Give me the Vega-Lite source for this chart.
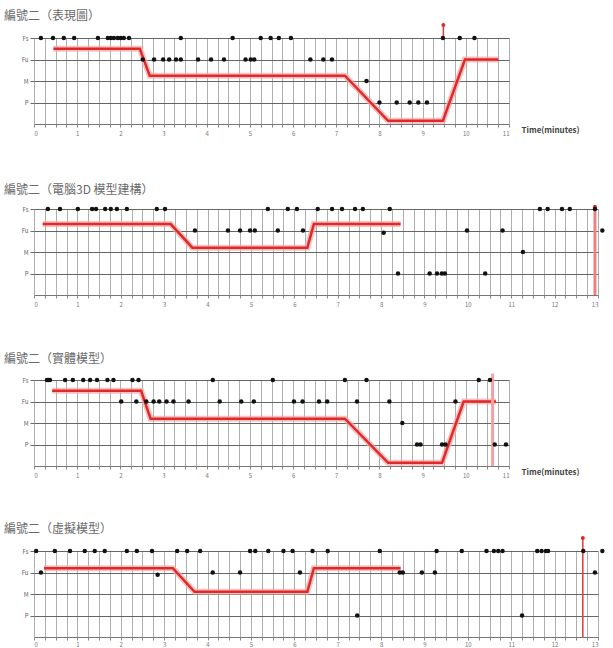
{
"$schema":"https://vega.github.io/schema/vega-lite/v6.json",
"padding":{"left":4,"top":10,"right":0,"bottom":0},
"background":"#ffffff",
"spacing":85,
"bounds":"flush",
"config":{"view":{"stroke":null},"font":"Noto Sans CJK TC","title":{"fontSize":12,"fontWeight":"normal","color":"#6a6a6a","anchor":"start","frame":"bounds"}},
"datasets":{
"pts":[
{"p":1,"t":0.16,"lv":4},{"p":1,"t":0.44,"lv":4},{"p":1,"t":0.69,"lv":4},{"p":1,"t":0.93,"lv":4},{"p":1,"t":1.48,"lv":4},{"p":1,"t":1.71,"lv":4},{"p":1,"t":1.78,"lv":4},{"p":1,"t":1.85,"lv":4},{"p":1,"t":1.94,"lv":4},{"p":1,"t":2.01,"lv":4},{"p":1,"t":2.08,"lv":4},{"p":1,"t":2.2,"lv":4},{"p":1,"t":3.4,"lv":4},{"p":1,"t":4.6,"lv":4},{"p":1,"t":5.25,"lv":4},{"p":1,"t":5.48,"lv":4},{"p":1,"t":5.67,"lv":4},{"p":1,"t":5.95,"lv":4},{"p":1,"t":9.47,"lv":4},{"p":1,"t":9.86,"lv":4},{"p":1,"t":10.2,"lv":4},
{"p":1,"t":2.52,"lv":3},{"p":1,"t":2.78,"lv":3},{"p":1,"t":2.99,"lv":3},{"p":1,"t":3.13,"lv":3},{"p":1,"t":3.29,"lv":3},{"p":1,"t":3.4,"lv":3},{"p":1,"t":3.8,"lv":3},{"p":1,"t":4.1,"lv":3},{"p":1,"t":4.4,"lv":3},{"p":1,"t":4.9,"lv":3},{"p":1,"t":5.02,"lv":3},{"p":1,"t":5.1,"lv":3},{"p":1,"t":6.4,"lv":3},{"p":1,"t":6.7,"lv":3},{"p":1,"t":6.9,"lv":3},
{"p":1,"t":7.7,"lv":2},
{"p":1,"t":8.0,"lv":1},{"p":1,"t":8.4,"lv":1},{"p":1,"t":8.7,"lv":1},{"p":1,"t":8.9,"lv":1},{"p":1,"t":9.1,"lv":1},
{"p":2,"t":0.32,"lv":4},{"p":2,"t":0.6,"lv":4},{"p":2,"t":1.01,"lv":4},{"p":2,"t":1.34,"lv":4},{"p":2,"t":1.43,"lv":4},{"p":2,"t":1.64,"lv":4},{"p":2,"t":1.77,"lv":4},{"p":2,"t":1.91,"lv":4},{"p":2,"t":2.14,"lv":4},{"p":2,"t":2.83,"lv":4},{"p":2,"t":3.02,"lv":4},{"p":2,"t":5.39,"lv":4},{"p":2,"t":5.85,"lv":4},{"p":2,"t":6.06,"lv":4},{"p":2,"t":6.54,"lv":4},{"p":2,"t":6.87,"lv":4},{"p":2,"t":7.1,"lv":4},{"p":2,"t":7.4,"lv":4},{"p":2,"t":7.58,"lv":4},{"p":2,"t":8.2,"lv":4},{"p":2,"t":11.66,"lv":4},{"p":2,"t":11.84,"lv":4},{"p":2,"t":12.17,"lv":4},{"p":2,"t":12.35,"lv":4},{"p":2,"t":12.93,"lv":4},
{"p":2,"t":3.71,"lv":3},{"p":2,"t":4.47,"lv":3},{"p":2,"t":4.75,"lv":3},{"p":2,"t":4.98,"lv":3},{"p":2,"t":5.09,"lv":3},{"p":2,"t":5.62,"lv":3},{"p":2,"t":6.2,"lv":3},{"p":2,"t":8.06,"lv":2.9},{"p":2,"t":9.98,"lv":3},{"p":2,"t":10.8,"lv":3},{"p":2,"t":13.1,"lv":3},
{"p":2,"t":11.27,"lv":2},
{"p":2,"t":8.39,"lv":1},{"p":2,"t":9.12,"lv":1},{"p":2,"t":9.29,"lv":1},{"p":2,"t":9.4,"lv":1},{"p":2,"t":9.47,"lv":1},{"p":2,"t":10.4,"lv":1},
{"p":3,"t":0.3,"lv":4},{"p":3,"t":0.33,"lv":4},{"p":3,"t":0.37,"lv":4},{"p":3,"t":0.72,"lv":4},{"p":3,"t":0.9,"lv":4},{"p":3,"t":1.14,"lv":4},{"p":3,"t":1.3,"lv":4},{"p":3,"t":1.46,"lv":4},{"p":3,"t":1.7,"lv":4},{"p":3,"t":1.84,"lv":4},{"p":3,"t":2.28,"lv":4},{"p":3,"t":2.42,"lv":4},{"p":3,"t":4.14,"lv":4},{"p":3,"t":5.53,"lv":4},{"p":3,"t":7.2,"lv":4},{"p":3,"t":7.7,"lv":4},{"p":3,"t":10.3,"lv":4},{"p":3,"t":10.56,"lv":4},
{"p":3,"t":2.02,"lv":3},{"p":3,"t":2.37,"lv":3},{"p":3,"t":2.6,"lv":3},{"p":3,"t":2.77,"lv":3},{"p":3,"t":2.9,"lv":3},{"p":3,"t":3.07,"lv":3},{"p":3,"t":3.23,"lv":3},{"p":3,"t":3.58,"lv":3},{"p":3,"t":4.3,"lv":3},{"p":3,"t":4.8,"lv":3},{"p":3,"t":5.09,"lv":3},{"p":3,"t":6.02,"lv":3},{"p":3,"t":6.22,"lv":3},{"p":3,"t":6.6,"lv":3},{"p":3,"t":6.79,"lv":3},{"p":3,"t":7.48,"lv":3},{"p":3,"t":8.23,"lv":3},{"p":3,"t":9.76,"lv":3},
{"p":3,"t":8.53,"lv":2},
{"p":3,"t":8.87,"lv":1},{"p":3,"t":8.95,"lv":1},{"p":3,"t":9.45,"lv":1},{"p":3,"t":9.53,"lv":1},{"p":3,"t":10.67,"lv":1},{"p":3,"t":10.93,"lv":1},
{"p":4,"t":0.05,"lv":4},{"p":4,"t":0.48,"lv":4},{"p":4,"t":0.83,"lv":4},{"p":4,"t":1.17,"lv":4},{"p":4,"t":1.4,"lv":4},{"p":4,"t":1.63,"lv":4},{"p":4,"t":2.14,"lv":4},{"p":4,"t":2.37,"lv":4},{"p":4,"t":2.72,"lv":4},{"p":4,"t":3.3,"lv":4},{"p":4,"t":3.53,"lv":4},{"p":4,"t":3.83,"lv":4},{"p":4,"t":4.98,"lv":4},{"p":4,"t":5.1,"lv":4},{"p":4,"t":5.4,"lv":4},{"p":4,"t":5.75,"lv":4},{"p":4,"t":5.96,"lv":4},{"p":4,"t":6.42,"lv":4},{"p":4,"t":6.77,"lv":4},{"p":4,"t":7.97,"lv":4},{"p":4,"t":9.28,"lv":4},{"p":4,"t":9.86,"lv":4},{"p":4,"t":10.43,"lv":4},{"p":4,"t":10.6,"lv":4},{"p":4,"t":10.7,"lv":4},{"p":4,"t":10.8,"lv":4},{"p":4,"t":11.6,"lv":4},{"p":4,"t":11.7,"lv":4},{"p":4,"t":11.8,"lv":4},{"p":4,"t":11.85,"lv":4},{"p":4,"t":12.66,"lv":4},{"p":4,"t":13.1,"lv":4},
{"p":4,"t":0.16,"lv":3},{"p":4,"t":2.85,"lv":2.9},{"p":4,"t":4.12,"lv":3},{"p":4,"t":4.75,"lv":3},{"p":4,"t":6.13,"lv":3},{"p":4,"t":8.43,"lv":3},{"p":4,"t":8.5,"lv":3},{"p":4,"t":8.94,"lv":3},{"p":4,"t":9.24,"lv":3},{"p":4,"t":12.93,"lv":3},
{"p":4,"t":7.45,"lv":1},{"p":4,"t":11.25,"lv":1}
],
"lines":[
{"p":1,"t":0.45,"lv":3.5},{"p":1,"t":2.45,"lv":3.5},{"p":1,"t":2.68,"lv":2.25},{"p":1,"t":7.2,"lv":2.25},{"p":1,"t":8.2,"lv":0.15},{"p":1,"t":9.47,"lv":0.15},{"p":1,"t":9.98,"lv":3},{"p":1,"t":10.75,"lv":3},
{"p":2,"t":0.2,"lv":3.3},{"p":2,"t":3.15,"lv":3.3},{"p":2,"t":3.65,"lv":2.2},{"p":2,"t":6.3,"lv":2.2},{"p":2,"t":6.45,"lv":3.3},{"p":2,"t":8.45,"lv":3.3},
{"p":3,"t":0.42,"lv":3.5},{"p":3,"t":2.48,"lv":3.5},{"p":3,"t":2.7,"lv":2.2},{"p":3,"t":7.2,"lv":2.2},{"p":3,"t":8.2,"lv":0.15},{"p":3,"t":9.45,"lv":0.15},{"p":3,"t":9.95,"lv":3},{"p":3,"t":10.7,"lv":3},
{"p":4,"t":0.23,"lv":3.2},{"p":4,"t":3.2,"lv":3.2},{"p":4,"t":3.7,"lv":2.1},{"p":4,"t":6.3,"lv":2.1},{"p":4,"t":6.45,"lv":3.2},{"p":4,"t":8.45,"lv":3.2}
],
"marks":[
{"p":1,"t":9.48,"lv":4,"lv2":4.6},
{"p":2,"t":12.93,"lv":0,"lv2":4.1},
{"p":3,"t":10.62,"lv":0,"lv2":4.3},
{"p":4,"t":12.65,"lv":0,"lv2":4.6}
]
},
"vconcat":[
{
"title":{"text":"編號二（表現圖）","offset":0},
"width":475,"height":86,
"encoding":{
"x":{"field":"t","type":"quantitative","scale":{"domain":[0,11],"nice":false,"zero":false},"axis":{"values":[0,0.25,0.5,0.75,1,1.25,1.5,1.75,2,2.25,2.5,2.75,3,3.25,3.5,3.75,4,4.25,4.5,4.75,5,5.25,5.5,5.75,6,6.25,6.5,6.75,7,7.25,7.5,7.75,8,8.25,8.5,8.75,9,9.25,9.5,9.75,10,10.25,10.5,10.75,11],"labelExpr":"datum.value % 1 === 0 ? '' + datum.value : ''","grid":true,"gridColor":"#9a9a9a","gridWidth":0.8,"tickColor":"#888","tickSize":3,"labelFontSize":6,"labelColor":"#777","labelPadding":3,"domainColor":"#777","title":"Time(minutes)","titleFontSize":8,"titleFontWeight":"bold","titleColor":"#444","titleAnchor":"start","titleAlign":"left","titleBaseline":"middle","titleX":487,"titleY":6}},
"y":{"field":"lv","type":"quantitative","scale":{"domain":[0,4],"nice":false},"axis":{"values":[1,2,3,4],"labelExpr":"['','P','M','Fu','Fs'][datum.value]","grid":true,"gridColor":"#555","gridWidth":0.9,"domain":false,"tickColor":"#666","tickSize":4,"labelFontSize":6,"labelColor":"#666","minExtent":30,"title":null}}
},
"layer":[
{"data":{"name":"lines"},"transform":[{"filter":"datum.p==1"}],"mark":{"type":"line","color":"#f6a8a8","strokeWidth":6,"opacity":0.7},"encoding":{}},
{"data":{"name":"lines"},"transform":[{"filter":"datum.p==1"}],"mark":{"type":"line","color":"#e02a2a","strokeWidth":2.5},"encoding":{}},
{"data":{"name":"marks"},"transform":[{"filter":"datum.p==1"}],"mark":{"type":"rule","color":"#e23a3a","strokeWidth":1.5,"clip":false},"encoding":{"y2":{"field":"lv2"}}},
{"data":{"name":"marks"},"transform":[{"filter":"datum.p==1"}],"mark":{"type":"point","shape":"circle","filled":true,"color":"#e02a2a","size":16,"opacity":1},"encoding":{"y":{"field":"lv2","type":"quantitative"}}},
{"data":{"name":"pts"},"transform":[{"filter":"datum.p==1"}],"mark":{"type":"point","shape":"circle","filled":true,"color":"#111","size":20,"opacity":1}}
]
},
{
"title":{"text":"編號二（電腦3D 模型建構）","offset":8},
"width":564,"height":86,
"encoding":{
"x":{"field":"t","type":"quantitative","scale":{"domain":[0,13],"nice":false,"zero":false},"axis":{"values":[0,0.25,0.5,0.75,1,1.25,1.5,1.75,2,2.25,2.5,2.75,3,3.25,3.5,3.75,4,4.25,4.5,4.75,5,5.25,5.5,5.75,6,6.25,6.5,6.75,7,7.25,7.5,7.75,8,8.25,8.5,8.75,9,9.25,9.5,9.75,10,10.25,10.5,10.75,11,11.25,11.5,11.75,12,12.25,12.5,12.75,13],"labelExpr":"datum.value % 1 === 0 ? '' + datum.value : ''","grid":true,"gridColor":"#9a9a9a","gridWidth":0.8,"tickColor":"#888","tickSize":3,"labelFontSize":6,"labelColor":"#777","labelPadding":3,"domainColor":"#777","title":null}},
"y":{"field":"lv","type":"quantitative","scale":{"domain":[0,4],"nice":false},"axis":{"values":[1,2,3,4],"labelExpr":"['','P','M','Fu','Fs'][datum.value]","grid":true,"gridColor":"#555","gridWidth":0.9,"domain":false,"tickColor":"#666","tickSize":4,"labelFontSize":6,"labelColor":"#666","minExtent":30,"title":null}}
},
"layer":[
{"data":{"name":"lines"},"transform":[{"filter":"datum.p==2"}],"mark":{"type":"line","color":"#f6a8a8","strokeWidth":6,"opacity":0.7},"encoding":{}},
{"data":{"name":"lines"},"transform":[{"filter":"datum.p==2"}],"mark":{"type":"line","color":"#e02a2a","strokeWidth":2.5},"encoding":{}},
{"data":{"name":"marks"},"transform":[{"filter":"datum.p==2"}],"mark":{"type":"rule","color":"#ee8080","strokeWidth":3,"clip":false},"encoding":{"y2":{"field":"lv2"}}},
{"data":{"name":"marks"},"transform":[{"filter":"datum.p==2"}],"mark":{"type":"point","shape":"circle","filled":true,"color":"#e02a2a","size":16,"opacity":1},"encoding":{"y":{"field":"lv2","type":"quantitative"}}},
{"data":{"name":"pts"},"transform":[{"filter":"datum.p==2"}],"mark":{"type":"point","shape":"circle","filled":true,"color":"#111","size":20,"opacity":1}}
]
},
{
"title":{"text":"編號二（實體模型）","offset":6},
"width":475,"height":86,
"encoding":{
"x":{"field":"t","type":"quantitative","scale":{"domain":[0,11],"nice":false,"zero":false},"axis":{"values":[0,0.25,0.5,0.75,1,1.25,1.5,1.75,2,2.25,2.5,2.75,3,3.25,3.5,3.75,4,4.25,4.5,4.75,5,5.25,5.5,5.75,6,6.25,6.5,6.75,7,7.25,7.5,7.75,8,8.25,8.5,8.75,9,9.25,9.5,9.75,10,10.25,10.5,10.75,11],"labelExpr":"datum.value % 1 === 0 ? '' + datum.value : ''","grid":true,"gridColor":"#9a9a9a","gridWidth":0.8,"tickColor":"#888","tickSize":3,"labelFontSize":6,"labelColor":"#777","labelPadding":3,"domainColor":"#777","title":"Time(minutes)","titleFontSize":8,"titleFontWeight":"bold","titleColor":"#444","titleAnchor":"start","titleAlign":"left","titleBaseline":"middle","titleX":487,"titleY":6}},
"y":{"field":"lv","type":"quantitative","scale":{"domain":[0,4],"nice":false},"axis":{"values":[1,2,3,4],"labelExpr":"['','P','M','Fu','Fs'][datum.value]","grid":true,"gridColor":"#555","gridWidth":0.9,"domain":false,"tickColor":"#666","tickSize":4,"labelFontSize":6,"labelColor":"#666","minExtent":30,"title":null}}
},
"layer":[
{"data":{"name":"lines"},"transform":[{"filter":"datum.p==3"}],"mark":{"type":"line","color":"#f6a8a8","strokeWidth":6,"opacity":0.7},"encoding":{}},
{"data":{"name":"lines"},"transform":[{"filter":"datum.p==3"}],"mark":{"type":"line","color":"#e02a2a","strokeWidth":2.5},"encoding":{}},
{"data":{"name":"marks"},"transform":[{"filter":"datum.p==3"}],"mark":{"type":"rule","color":"#f4a0a0","strokeWidth":3,"clip":false},"encoding":{"y2":{"field":"lv2"}}},
{"data":{"name":"pts"},"transform":[{"filter":"datum.p==3"}],"mark":{"type":"point","shape":"circle","filled":true,"color":"#111","size":20,"opacity":1}}
]
},
{
"title":{"text":"編號二（虛擬模型）","offset":0},
"width":564,"height":86,
"encoding":{
"x":{"field":"t","type":"quantitative","scale":{"domain":[0,13],"nice":false,"zero":false},"axis":{"values":[0,0.25,0.5,0.75,1,1.25,1.5,1.75,2,2.25,2.5,2.75,3,3.25,3.5,3.75,4,4.25,4.5,4.75,5,5.25,5.5,5.75,6,6.25,6.5,6.75,7,7.25,7.5,7.75,8,8.25,8.5,8.75,9,9.25,9.5,9.75,10,10.25,10.5,10.75,11,11.25,11.5,11.75,12,12.25,12.5,12.75,13],"labelExpr":"datum.value % 1 === 0 ? '' + datum.value : ''","grid":true,"gridColor":"#9a9a9a","gridWidth":0.8,"tickColor":"#888","tickSize":3,"labelFontSize":6,"labelColor":"#777","labelPadding":1,"domainColor":"#777","title":null}},
"y":{"field":"lv","type":"quantitative","scale":{"domain":[0,4],"nice":false},"axis":{"values":[1,2,3,4],"labelExpr":"['','P','M','Fu','Fs'][datum.value]","grid":true,"gridColor":"#555","gridWidth":0.9,"domain":false,"tickColor":"#666","tickSize":4,"labelFontSize":6,"labelColor":"#666","minExtent":30,"title":null}}
},
"layer":[
{"data":{"name":"lines"},"transform":[{"filter":"datum.p==4"}],"mark":{"type":"line","color":"#f6a8a8","strokeWidth":6,"opacity":0.7},"encoding":{}},
{"data":{"name":"lines"},"transform":[{"filter":"datum.p==4"}],"mark":{"type":"line","color":"#e02a2a","strokeWidth":2.5},"encoding":{}},
{"data":{"name":"marks"},"transform":[{"filter":"datum.p==4"}],"mark":{"type":"rule","color":"#e23a3a","strokeWidth":1.5,"clip":false},"encoding":{"y2":{"field":"lv2"}}},
{"data":{"name":"marks"},"transform":[{"filter":"datum.p==4"}],"mark":{"type":"point","shape":"circle","filled":true,"color":"#e02a2a","size":16,"opacity":1},"encoding":{"y":{"field":"lv2","type":"quantitative"}}},
{"data":{"name":"pts"},"transform":[{"filter":"datum.p==4"}],"mark":{"type":"point","shape":"circle","filled":true,"color":"#111","size":20,"opacity":1}}
]
}
]
}
